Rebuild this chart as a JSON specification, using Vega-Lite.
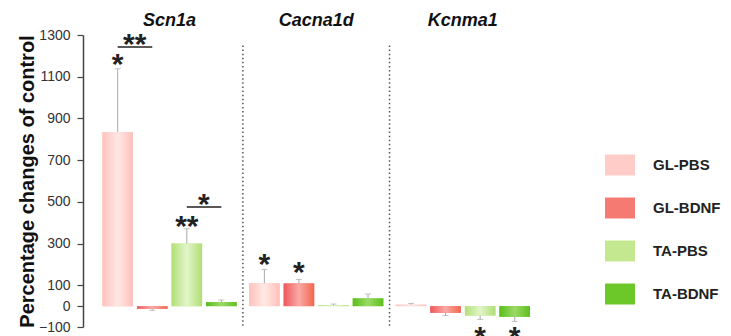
{
  "$schema": "https://vega.github.io/schema/vega-lite/v6.json",
  "autosize": "none",
  "padding": {"left": 83, "top": 35, "right": 186, "bottom": 9},
  "width": 462,
  "height": 292,
  "background": "white",
  "config": {
    "view": {"stroke": null},
    "font": "Liberation Sans",
    "axis": {"labelFont": "Liberation Sans", "titleFont": "Liberation Sans", "labelOverlap": false, "labelBound": false, "labelSeparation": 0},
    "axisY": {"labelOverlap": false},
    "axisQuantitative": {"labelOverlap": false},
    "legend": {"labelFont": "Liberation Sans"}
  },
  "datasets": {
    "bars": [
      {"gene": "Scn1a", "group": "GL-PBS", "value": 834, "err": 1138},
      {"gene": "Scn1a", "group": "GL-BDNF", "value": -13, "err": -20},
      {"gene": "Scn1a", "group": "TA-PBS", "value": 300, "err": 371},
      {"gene": "Scn1a", "group": "TA-BDNF", "value": 19, "err": 29},
      {"gene": "Cacna1d", "group": "GL-PBS", "value": 110, "err": 176},
      {"gene": "Cacna1d", "group": "GL-BDNF", "value": 109, "err": 128},
      {"gene": "Cacna1d", "group": "TA-PBS", "value": 4, "err": 10},
      {"gene": "Cacna1d", "group": "TA-BDNF", "value": 37, "err": 58},
      {"gene": "Kcnma1", "group": "GL-PBS", "value": 7, "err": 13},
      {"gene": "Kcnma1", "group": "GL-BDNF", "value": -32, "err": -45},
      {"gene": "Kcnma1", "group": "TA-PBS", "value": -45, "err": -64},
      {"gene": "Kcnma1", "group": "TA-BDNF", "value": -51, "err": -73}
    ],
    "stars": [
      {"gene": "Scn1a", "group": "GL-PBS", "label": "*", "pos": 1113, "mid": false},
      {"gene": "Scn1a", "group": "GL-PBS", "label": "**", "pos": 1209, "mid": true},
      {"gene": "Scn1a", "group": "TA-PBS", "label": "**", "pos": 337, "mid": false},
      {"gene": "Scn1a", "group": "TA-PBS", "label": "*", "pos": 442, "mid": true},
      {"gene": "Cacna1d", "group": "GL-PBS", "label": "*", "pos": 156, "mid": false},
      {"gene": "Cacna1d", "group": "GL-BDNF", "label": "*", "pos": 114, "mid": false},
      {"gene": "Kcnma1", "group": "TA-PBS", "label": "*", "pos": -195, "mid": false},
      {"gene": "Kcnma1", "group": "TA-BDNF", "label": "*", "pos": -195, "mid": false}
    ],
    "brackets": [
      {"id": "b1", "gene": "Scn1a", "group": "GL-PBS", "pos": 1242},
      {"id": "b1", "gene": "Scn1a", "group": "GL-BDNF", "pos": 1242},
      {"id": "b2", "gene": "Scn1a", "group": "TA-PBS", "pos": 475},
      {"id": "b2", "gene": "Scn1a", "group": "TA-BDNF", "pos": 475}
    ],
    "headers": [
      {"gene": "Scn1a", "pos": 1341},
      {"gene": "Cacna1d", "pos": 1341},
      {"gene": "Kcnma1", "pos": 1341}
    ],
    "dividers": [
      {"gene": "Cacna1d", "top": 1250, "bottom": -95},
      {"gene": "Kcnma1", "top": 1250, "bottom": -95}
    ]
  },
  "encoding": {
    "x": {
      "field": "gene",
      "type": "nominal",
      "scale": {"domain": ["Scn1a", "Cacna1d", "Kcnma1"], "paddingInner": 0, "paddingOuter": 0.075, "align": 0.6},
      "axis": null
    }
  },
  "layer": [
    {
      "data": {"name": "bars"},
      "mark": {"type": "bar"},
      "encoding": {
        "xOffset": {"field": "group", "type": "nominal", "scale": {"domain": ["GL-PBS", "GL-BDNF", "TA-PBS", "TA-BDNF"], "paddingInner": 0.116, "paddingOuter": 0.18}},
        "y": {
          "field": "value",
          "type": "quantitative",
          "scale": {"domain": [-100, 1300], "nice": false, "zero": false},
          "axis": {
            "values": [-100, 0, 100, 300, 500, 700, 900, 1100, 1300],
            "tickCount": 20,
            "format": "d",
            "labelOverlap": false,
            "labelBound": false,
            "labelSeparation": 0,
            "grid": false,
            "labelFontSize": 14,
            "labelColor": "#333333",
            "labelPadding": 7,
            "tickSize": 6,
            "tickColor": "#444444",
            "domainColor": "#444444",
            "domainWidth": 1.5,
            "tickWidth": 1.2,
            "title": "Percentage changes of control",
            "titleFontSize": 20,
            "titleFontWeight": "bold",
            "titleColor": "#111111",
            "titlePadding": 1
          }
        },
        "y2": {"datum": 0},
        "color": {
          "field": "group",
          "type": "nominal",
          "scale": {"domain": ["GL-PBS", "GL-BDNF", "TA-PBS", "TA-BDNF"], "range": ["#ffccc7", "#f47a72", "#c4e890", "#6cc828"]},
          "legend": {
            "title": null,
            "orient": "none",
            "legendX": 527,
            "legendY": 120,
            "symbolType": "M-1.5,-1.05H1.5V1.05H-1.5Z",
            "symbolSize": 400,
            "symbolStrokeWidth": 0,
            "symbolOpacity": 1,
            "labelFontSize": 15,
            "labelFontWeight": "bold",
            "labelColor": "#222222",
            "labelOffset": 23,
            "rowPadding": 21
          }
        }
      }
    },
    {
      "data": {"name": "dividers"},
      "mark": {"type": "rule", "color": "#555555", "strokeWidth": 1.5, "strokeDash": [1.5, 2.6]},
      "encoding": {
        "x": {"field": "gene", "type": "nominal", "bandPosition": 0},
        "y": {"field": "top", "type": "quantitative"},
        "y2": {"field": "bottom"}
      }
    },
    {
      "data": {"name": "bars"},
      "mark": {"type": "bar"},
      "encoding": {
        "xOffset": {"field": "group", "type": "nominal"},
        "y": {"field": "value", "type": "quantitative"},
        "y2": {"datum": 0},
        "fill": {
          "condition": [
            {"test": "datum.group === 'GL-PBS'", "value": {"gradient": "linear", "x1": 0, "x2": 1, "y1": 0, "y2": 0, "stops": [{"offset": 0, "color": "#ffc2bc"}, {"offset": 0.5, "color": "#ffe8e5"}, {"offset": 1, "color": "#ffc0ba"}]}},
            {"test": "datum.group === 'GL-BDNF'", "value": {"gradient": "linear", "x1": 0, "x2": 1, "y1": 0, "y2": 0, "stops": [{"offset": 0, "color": "#f0575a"}, {"offset": 0.5, "color": "#f9aaa6"}, {"offset": 1, "color": "#f2664c"}]}},
            {"test": "datum.group === 'TA-PBS'", "value": {"gradient": "linear", "x1": 0, "x2": 1, "y1": 0, "y2": 0, "stops": [{"offset": 0, "color": "#b2df78"}, {"offset": 0.5, "color": "#e2f5c9"}, {"offset": 1, "color": "#b0de74"}]}}
          ],
          "value": {"gradient": "linear", "x1": 0, "x2": 1, "y1": 0, "y2": 0, "stops": [{"offset": 0, "color": "#58be18"}, {"offset": 0.5, "color": "#9cd966"}, {"offset": 1, "color": "#5cc01a"}]}
        }
      }
    },
    {
      "data": {"name": "bars"},
      "mark": {"type": "rule", "color": "#aaaaaa", "strokeWidth": 1},
      "encoding": {
        "xOffset": {"field": "group", "type": "nominal"},
        "y": {"field": "value", "type": "quantitative"},
        "y2": {"field": "err"}
      }
    },
    {
      "data": {"name": "bars"},
      "mark": {"type": "tick", "color": "#aaaaaa", "orient": "horizontal", "size": 6, "thickness": 1},
      "encoding": {
        "xOffset": {"field": "group", "type": "nominal"},
        "y": {"field": "err", "type": "quantitative"}
      }
    },
    {
      "data": {"name": "bars"},
      "mark": {"type": "rule", "color": "#555555", "strokeWidth": 2},
      "encoding": {"y": {"datum": 0}}
    },
    {
      "data": {"name": "brackets"},
      "mark": {"type": "line", "color": "#222222", "strokeWidth": 1.5},
      "encoding": {
        "xOffset": {"field": "group", "type": "nominal"},
        "y": {"field": "pos", "type": "quantitative"},
        "detail": {"field": "id"}
      }
    },
    {
      "data": {"name": "stars"},
      "transform": [{"filter": "!datum.mid"}],
      "mark": {"type": "text", "fontSize": 30, "fontWeight": "bold", "color": "#222222", "baseline": "alphabetic", "align": "center"},
      "encoding": {
        "xOffset": {"field": "group", "type": "nominal"},
        "y": {"field": "pos", "type": "quantitative"},
        "text": {"field": "label"}
      }
    },
    {
      "data": {"name": "stars"},
      "transform": [{"filter": "datum.mid"}],
      "mark": {"type": "text", "fontSize": 30, "fontWeight": "bold", "color": "#222222", "baseline": "alphabetic", "align": "center", "dx": 17},
      "encoding": {
        "xOffset": {"field": "group", "type": "nominal"},
        "y": {"field": "pos", "type": "quantitative"},
        "text": {"field": "label"}
      }
    },
    {
      "data": {"name": "headers"},
      "mark": {"type": "text", "fontSize": 18, "fontWeight": "bold", "fontStyle": "italic", "color": "#111111", "baseline": "alphabetic", "align": "center"},
      "encoding": {
        "y": {"field": "pos", "type": "quantitative"},
        "text": {"field": "gene"}
      }
    }
  ]
}
